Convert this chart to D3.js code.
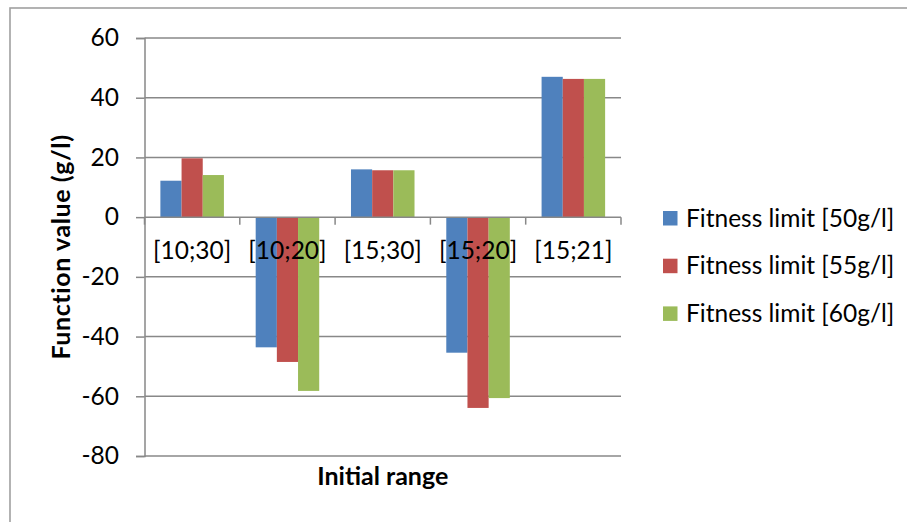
<!DOCTYPE html>
<html><head><meta charset="utf-8">
<script src="https://cdn.jsdelivr.net/npm/d3@7"></script>
<style>
body{margin:0;background:#fff;}
svg text{font-family:Lato,"Open Sans",sans-serif;fill:#000;}
</style>
</head><body><svg id="chart" width="907" height="522"></svg>
<script>
const categories = ["[10;30]","[10;20]","[15;30]","[15;20]","[15;21]"];
const seriesNames = ["Fitness limit [50g/l]","Fitness limit [55g/l]","Fitness limit [60g/l]"];
const limit50 = [12.2, -43.6, 16.0, -45.4, 47.0];
const limit55 = [19.7, -48.5, 15.7, -63.9, 46.3];
const limit60 = [14.1, -58.2, 15.7, -60.6, 46.3];
const seriesColors = ["#4F81BD","#C0504D","#9BBB59"];
const yTicks = [60,40,20,0,-20,-40,-60,-80];
const yTitle = "Function value (g/l)";
const xTitle = "Initial range";

const series = [limit50, limit55, limit60];
const svg = d3.select("#chart");
const gridColor = "#888888";
const fs = 24.5;

// outer frame
svg.append("rect").attr("x",10).attr("y",8).attr("width",1000).attr("height",1000)
  .attr("fill","none").attr("stroke","#a0a0a0").attr("stroke-width",1.6);

const plot = {left:144.5, right:621, top:38, bottom:456};
const x = d3.scaleBand().domain(categories).range([plot.left, plot.right]).padding(0);
const x1 = d3.scaleBand().domain([0,1,2]).range([0, x.bandwidth()]).paddingInner(0).paddingOuter(0.75);
const y = d3.scaleLinear().domain([-80,60]).range([plot.bottom, plot.top]);

// gridlines
svg.append("g").selectAll("line").data(yTicks.filter(d=>d!==0)).join("line")
  .attr("x1",plot.left).attr("x2",plot.right)
  .attr("y1",d=>y(d)).attr("y2",d=>y(d))
  .attr("stroke",gridColor).attr("stroke-width",1.5);

// y axis
const yAxis = svg.append("g").attr("transform",`translate(${plot.left},0)`)
  .call(d3.axisLeft(y).tickValues(yTicks).tickSize(8.5).tickPadding(17).tickFormat(d=>String(d)));
yAxis.select(".domain").attr("stroke",gridColor).attr("stroke-width",1.5);
yAxis.selectAll(".tick line").attr("stroke",gridColor).attr("stroke-width",1.5);
yAxis.selectAll(".tick text").style("font-size",fs+"px").style("font-family","Lato").attr("fill","#000");

// bars
const groups = svg.append("g").selectAll("g").data(categories).join("g")
  .attr("transform",d=>`translate(${x(d)},0)`);
groups.selectAll("rect").data((c,i)=>series.map((s,k)=>({k, v:s[i]}))).join("rect")
  .attr("x",d=>x1(d.k)).attr("width",x1.bandwidth())
  .attr("y",d=>y(Math.max(0,d.v))).attr("height",d=>Math.abs(y(d.v)-y(0)))
  .attr("fill",d=>seriesColors[d.k]);

// zero axis line with boundary ticks
svg.append("line").attr("x1",plot.left).attr("x2",plot.right).attr("y1",y(0)).attr("y2",y(0))
  .attr("stroke",gridColor).attr("stroke-width",1.5);
const bounds = categories.map(c=>x(c)).concat([x(categories[categories.length-1])+x.bandwidth()]);
svg.append("g").selectAll("line").data(bounds).join("line")
  .attr("x1",d=>d).attr("x2",d=>d).attr("y1",y(0)).attr("y2",y(0)+7.5)
  .attr("stroke",gridColor).attr("stroke-width",1.5);

// category labels
const xAxis = svg.append("g").attr("transform",`translate(0,${y(0)})`)
  .call(d3.axisBottom(x).tickSize(0).tickPadding(24));
xAxis.select(".domain").remove();
xAxis.selectAll(".tick text").style("font-size",fs+"px").style("font-family","Lato").attr("fill","#000");

// axis titles
svg.append("text").attr("transform",`translate(70,${(plot.top+plot.bottom)/2}) rotate(-90)`)
  .attr("text-anchor","middle").style("font-size","25px").style("font-weight","bold")
  .style("letter-spacing","0.6px").text(yTitle);
svg.append("text").attr("x",(plot.left+plot.right)/2).attr("y",485)
  .attr("text-anchor","middle").style("font-size","25px").style("font-weight","bold").text(xTitle);

// legend
const leg = svg.append("g").selectAll("g").data(seriesNames).join("g")
  .attr("transform",(d,i)=>`translate(663,${218+i*47.7})`);
leg.append("rect").attr("x",0).attr("y",-7).attr("width",14.5).attr("height",14.5)
  .attr("fill",(d,i)=>seriesColors[i]);
leg.append("text").attr("x",23).attr("y",0).attr("dy","0.35em").style("font-size",fs+"px").text(d=>d);
</script>
</body></html>
